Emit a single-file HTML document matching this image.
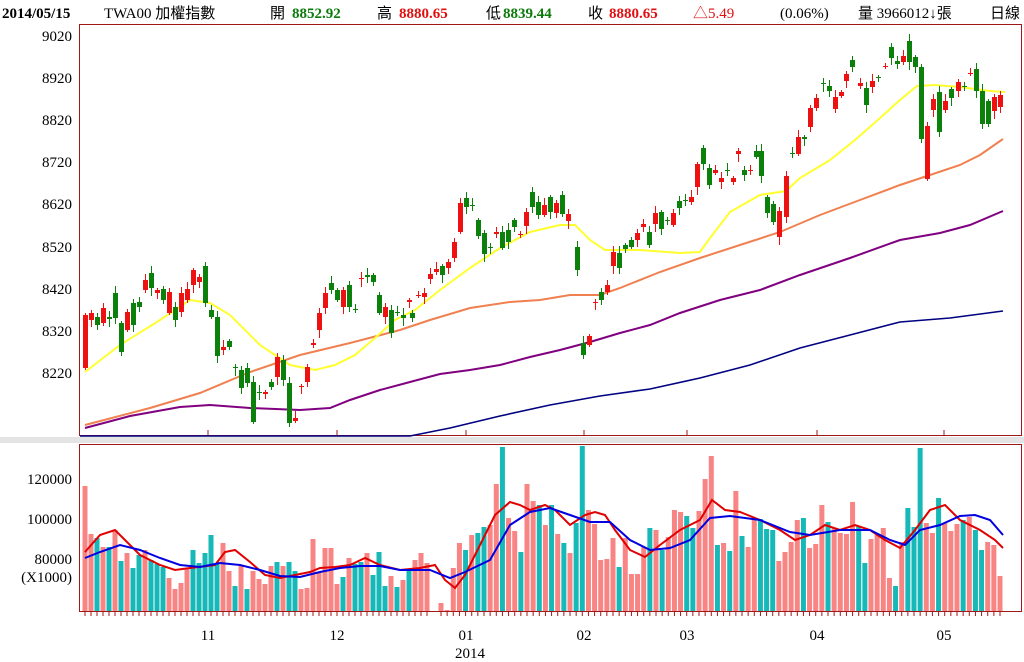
<!DOCTYPE html>
<html><head><meta charset="utf-8"><style>
body{margin:0;background:#fff;width:1024px;height:662px;overflow:hidden;font-family:"Liberation Serif","Noto Serif CJK SC","Noto Sans CJK TC",serif;}
svg{position:absolute;left:0;top:0}
text{font-family:"Liberation Serif","Noto Sans CJK TC",serif;font-size:15px}
</style></head><body>
<svg id="s" width="1024" height="662" xmlns="http://www.w3.org/2000/svg">
<rect x="0" y="437" width="1024" height="6" fill="#e4e4e4"/>
<rect x="79.5" y="24.5" width="942" height="411" fill="none" stroke="#a01818"/>
<rect x="79.5" y="444.5" width="942" height="167" fill="none" stroke="#a01818"/>
<g fill="#000">
<text x="2" y="18" font-weight="bold">2014/05/15</text>
<text x="104" y="18">TWA00 加權指數</text>
<text x="270" y="18">開</text><text x="292" y="18" fill="#0a7a0a" font-weight="bold">8852.92</text>
<text x="377" y="18">高</text><text x="399" y="18" fill="#e01010" font-weight="bold">8880.65</text>
<text x="486" y="18">低</text><text x="503" y="18" fill="#0a7a0a" font-weight="bold">8839.44</text>
<text x="588" y="18">收</text><text x="609" y="18" fill="#e01010" font-weight="bold">8880.65</text>
<text x="693" y="18" fill="#e01010">△5.49</text>
<text x="780" y="18">(0.06%)</text>
<text x="858" y="18">量 3966012↓張</text>
<text x="990" y="18">日線</text>
</g>
<g text-anchor="end" fill="#000">
<text x="72" y="41">9020</text><text x="72" y="83">8920</text><text x="72" y="125">8820</text>
<text x="72" y="167">8720</text><text x="72" y="209">8620</text><text x="72" y="252">8520</text>
<text x="72" y="294">8420</text><text x="72" y="336">8320</text><text x="72" y="378">8220</text>
<text x="72" y="484">120000</text><text x="72" y="524">100000</text><text x="72" y="564">80000</text>
<text x="72" y="582">(X1000)</text>
</g>
<g text-anchor="middle" fill="#000">
<text x="208" y="640">11</text><text x="337" y="640">12</text><text x="466" y="640">01</text>
<text x="584" y="640">02</text><text x="687" y="640">03</text><text x="817" y="640">04</text>
<text x="944" y="640">05</text><text x="470" y="658">2014</text>
</g>
<g stroke="#a01818">
<line x1="208" y1="430" x2="208" y2="436"/><line x1="337" y1="430" x2="337" y2="436"/><line x1="466" y1="430" x2="466" y2="436"/><line x1="584" y1="430" x2="584" y2="436"/><line x1="687" y1="430" x2="687" y2="436"/><line x1="817" y1="430" x2="817" y2="436"/><line x1="944" y1="430" x2="944" y2="436"/>
</g>
<g id="vol"></g>
<g id="ma" fill="none" stroke-width="2">
<polyline stroke="#000080" stroke-width="1.6" points="80,436 410,436 450,428 500,416 550,405 600,396 650,389 700,378 750,365 800,348 850,335 900,322 950,318 1003,311"/>
<polyline stroke="#800080" points="85,428 130,416 180,407 210,405 250,408 300,410 330,408 350,400 380,390 410,382 440,374 470,370 500,365 530,357 560,350 590,342 620,333 650,325 680,313 720,300 760,290 800,275 850,258 900,240 940,233 970,225 1003,211"/>
<polyline stroke="#f08050" points="85,425 150,408 200,393 250,372 300,355 350,343 400,330 430,320 470,308 510,302 540,300 570,295 600,295 620,288 660,272 700,258 740,245 780,232 820,215 860,200 900,185 930,175 960,165 980,155 1003,139"/>
<polyline stroke="#ffff30" points="85,372 120,345 160,320 190,300 210,303 230,315 260,345 290,365 315,370 335,365 355,355 375,338 395,320 415,310 440,290 470,268 500,248 530,232 560,225 575,225 590,240 605,250 640,250 680,253 700,252 710,238 730,212 760,195 786,191 800,178 830,160 855,140 880,118 900,100 917,86 935,85 960,87 990,91 1005,92"/>
</g>
<g id="c"></g>
<g fill="none" stroke-width="2">
<polyline stroke="#e00000" points="85,552 100,535 115,530 125,540 140,555 160,565 175,570 190,568 215,565 225,552 235,550 250,562 265,575 280,578 295,575 310,572 320,568 335,567 350,565 365,558 380,565 400,570 420,568 435,565 445,580 455,588 465,575 480,545 495,515 510,502 520,505 530,510 545,505 555,510 570,525 585,515 595,512 605,515 615,530 630,550 645,557 660,545 680,530 700,520 712,500 725,510 740,512 760,520 780,530 795,540 810,535 825,525 840,530 855,525 870,530 885,540 900,548 915,530 930,510 945,505 960,520 980,530 995,540 1003,548"/>
<polyline stroke="#0000e0" points="85,558 100,552 120,545 140,550 160,558 180,565 200,567 220,563 240,565 260,570 280,576 300,577 320,572 340,568 360,566 380,566 400,570 430,570 450,578 465,572 490,560 510,525 530,512 550,508 570,515 590,522 610,522 630,540 650,550 670,548 690,540 710,518 730,516 760,520 790,532 810,535 840,530 870,530 890,540 905,545 920,530 940,525 960,516 975,515 990,520 1003,535"/>
</g>
<g id="tk" stroke="#a01818"></g>
</svg>
<script>
var NS="http://www.w3.org/2000/svg";
function el(p,t,a){var e=document.createElementNS(NS,t);for(var k in a)e.setAttribute(k,a[k]);p.appendChild(e);return e;}
var C=[[85,315,368,1],[91,313,320,1],[97,317,325,0],[103,308,323,1],[109,317,319,0],[115,293,318,0],[121,323,352,0],[127,312,330,1],[133,303,325,0],[139,302,307,0],[145,280,290,1],[151,273,288,0],[157,290,293,1],[163,289,300,0],[169,292,313,1],[175,307,320,0],[181,293,312,1],[187,289,300,1],[193,270,285,1],[199,277,282,1],[205,266,303,0],[211,310,317,0],[217,317,356,0],[223,347,350,1],[229,341,347,0],[235,367,368,0],[241,370,388,0],[247,368,383,0],[253,382,422,0],[259,392,393,0],[265,392,394,1],[271,382,387,0],[277,357,377,1],[283,360,380,0],[289,383,423,0],[295,418,421,1],[301,386,387,1],[307,367,382,1],[313,343,345,1],[319,313,330,1],[325,293,308,1],[331,283,290,0],[337,290,300,0],[343,290,307,1],[349,285,307,0],[355,309,310,0],[361,278,279,1],[367,275,277,0],[373,275,282,0],[379,295,313,0],[385,307,317,1],[391,310,333,0],[397,312,313,0],[403,315,318,0],[409,300,302,1],[412,313,318,0],[418,295,296,1],[424,293,297,1],[430,274,279,1],[436,269,272,1],[442,266,275,0],[448,262,268,1],[454,242,258,1],[460,203,232,1],[466,198,207,0],[472,205,206,0],[478,220,236,0],[484,233,254,0],[490,247,248,0],[496,232,234,1],[502,232,248,0],[508,230,242,0],[514,220,227,0],[520,234,235,1],[526,212,226,1],[532,192,207,0],[538,202,215,0],[544,205,215,1],[550,197,212,0],[556,203,213,1],[562,195,214,0],[568,214,221,1],[577,247,270,0],[583,343,355,0],[589,336,345,1],[595,302,303,1],[601,292,300,0],[607,285,292,1],[613,252,266,1],[619,253,268,0],[625,245,249,0],[631,240,247,0],[637,233,240,1],[643,224,227,1],[649,232,245,0],[655,213,224,1],[661,212,229,0],[667,220,221,0],[673,213,225,1],[679,201,208,0],[685,200,201,0],[691,197,202,1],[697,164,187,1],[703,148,164,0],[709,168,185,0],[715,170,173,1],[721,178,182,1],[727,170,171,0],[733,178,182,1],[738,151,154,1],[744,170,175,0],[750,170,171,1],[756,151,157,0],[761,151,176,0],[767,197,213,0],[773,204,222,0],[779,211,237,1],[786,176,217,1],[792,153,154,0],[798,137,154,1],[804,137,139,0],[810,108,127,1],[816,98,108,1],[823,83,84,0],[829,86,91,0],[835,97,109,1],[841,92,96,1],[846,74,81,1],[852,60,67,0],[860,83,86,1],[866,88,105,0],[872,81,87,1],[878,77,78,0],[885,66,67,1],[891,47,58,0],[897,61,64,0],[903,56,62,1],[909,41,62,0],[915,57,67,0],[921,67,139,0],[927,126,179,1],[933,99,110,1],[939,92,132,0],[945,101,110,1],[951,89,98,0],[958,82,91,1],[964,86,87,0],[970,73,74,1],[976,69,91,0],[982,91,124,0],[988,101,124,0],[994,97,111,1],[1000,95,107,1]];
var g=document.getElementById("c");
C.forEach(function(d,i){var col=d[3]?"#ee1111":"#0b800b";var w1=2+((i*7)%6),w2=2+((i*5)%7);
el(g,"line",{x1:d[0]+.5,x2:d[0]+.5,y1:d[1]-w1,y2:d[2]+w2,stroke:col});
el(g,"rect",{x:d[0]-2,y:d[1],width:5,height:Math.max(1,d[2]-d[1]),fill:col});});
var L="486p534p538t547p547t530p561t553p568t555t550p560t564t567t578p589p583p569p550t563t553t535t563t543p571p586t566p589t571p579p584p566p562t566p562t571t589p588p539p572p548p548p584p577t558p564t562t553p575t552t586t576p587t580p570t560p553p563p";
var R="603p610p568p543p550t535p533t527t525p484p447t518p531p552t484p501p505t525p505t534p543t553p523t446t510p524p560p559p538p567t538p574p574p547p528t530p550t537p510p512p516t528t511p479p456p545t543p551t491p536t547p518p519t529t530t561p552p542p520p518t548p544p505p522t528p533p534p502p526t563t539p535p528p578p586t542p508t527t448t523p533p498t523p531p524p520t517p530t550t542p545p576p";
var vg=document.getElementById("vol"),tk=document.getElementById("tk");
function parse(s){var a=[],re=/(\d+)([pt])/g,m;while(m=re.exec(s))a.push([+m[1],m[2]]);return a;}
var la=parse(L),ra=parse(R),xs=[];
la.forEach(function(v,i){xs.push([85+6*i,v]);});
ra.forEach(function(v,i){xs.push([441+i*(559/(ra.length-1)),v]);});
xs.forEach(function(o){var x=o[0],v=o[1];el(vg,"rect",{x:x-2.5,y:v[0],width:5,height:611-v[0],fill:v[1]=="p"?"#f88484":"#16b8b8"});
el(tk,"line",{x1:x,x2:x,y1:612,y2:616});});
</script>
</body></html>
